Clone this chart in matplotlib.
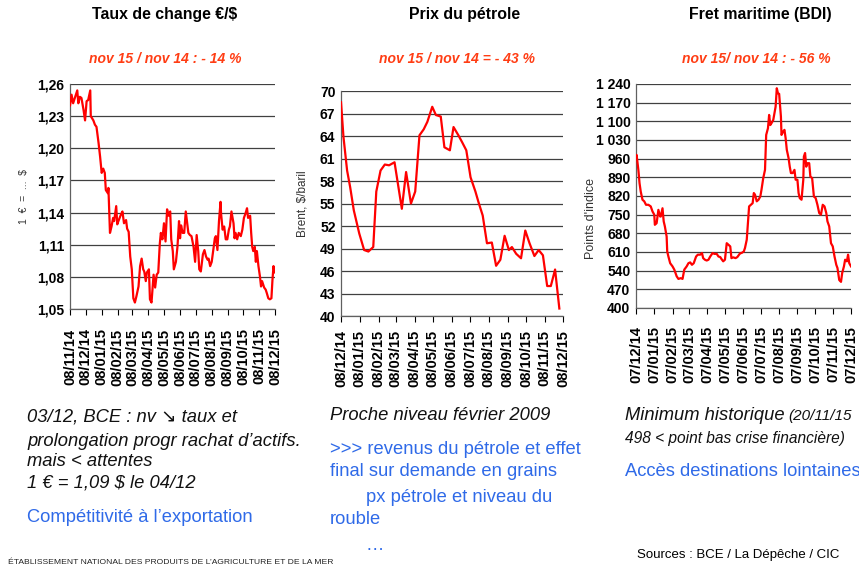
from datetime import datetime, timedelta

import matplotlib
matplotlib.use("Agg")
import matplotlib.dates as mdates
import matplotlib.pyplot as plt

plt.rcParams["font.family"] = ["Liberation Sans", "DejaVu Sans"]

# --- data ------------------------------------------------------------------
fx_start = datetime(2014, 11, 8)
fx_days = [0, 1, 3, 6, 10, 12, 14, 16, 19, 22, 26, 29, 32, 35, 39, 40, 45, 48, 51, 55,
           58, 61, 64, 67, 69, 73, 74, 77, 80, 83, 85, 89, 91, 94, 98, 101, 104, 108, 110,
           113, 116, 119, 122, 125, 128, 132, 135, 138, 141, 143, 146, 148, 152, 154, 157,
           161, 164, 167, 170, 173, 175, 178, 181, 184, 187, 190, 193, 195, 198, 200, 204,
           207, 210, 212, 214, 217, 220, 223, 225, 228, 231, 234, 238, 241, 244, 247, 249,
           252, 256, 259, 262, 265, 267, 270, 273, 276, 279, 281, 284, 287, 290, 291, 294,
           297, 300, 303, 306, 308, 311, 315, 317, 319, 322, 325, 329, 332, 335, 338, 341,
           343, 347, 349, 351, 353, 356, 358, 360, 363, 366, 368, 370, 374, 377, 379, 382,
           385, 388, 390, 392, 394, 395]
fx_rate = [1.240, 1.243, 1.250, 1.242, 1.248, 1.251, 1.254, 1.242, 1.248, 1.247, 1.236,
           1.226, 1.244, 1.245, 1.254, 1.230, 1.226, 1.222, 1.220, 1.205, 1.192, 1.177,
           1.181, 1.177, 1.161, 1.158, 1.163, 1.121, 1.127, 1.135, 1.132, 1.146, 1.129,
           1.133, 1.138, 1.141, 1.130, 1.133, 1.125, 1.122, 1.099, 1.087, 1.060, 1.056,
           1.062, 1.071, 1.090, 1.097, 1.087, 1.085, 1.076, 1.084, 1.087, 1.059, 1.056,
           1.082, 1.070, 1.082, 1.084, 1.111, 1.121, 1.115, 1.130, 1.113, 1.143, 1.137,
           1.141, 1.115, 1.104, 1.087, 1.094, 1.108, 1.132, 1.116, 1.128, 1.121, 1.121,
           1.141, 1.133, 1.121, 1.119, 1.118, 1.108, 1.094, 1.119, 1.104, 1.087, 1.085,
           1.101, 1.105, 1.099, 1.096, 1.097, 1.090, 1.094, 1.105, 1.116, 1.118, 1.105,
           1.132, 1.150, 1.139, 1.124, 1.127, 1.115, 1.115, 1.124, 1.127, 1.141, 1.130,
           1.116, 1.121, 1.115, 1.121, 1.118, 1.124, 1.135, 1.139, 1.144, 1.135, 1.137,
           1.121, 1.108, 1.104, 1.108, 1.094, 1.104, 1.090, 1.080, 1.071, 1.076, 1.070,
           1.068, 1.065, 1.060, 1.059, 1.060, 1.077, 1.090, 1.084, 1.088]

oil_start = datetime(2014, 12, 8)
oil_days = [0, 4, 10, 15, 21, 30, 38, 45, 53, 58, 65, 72, 79, 88, 100, 107, 115, 122, 129,
            136, 142, 150, 156, 164, 170, 179, 185, 193, 199, 206, 213, 221, 226, 233, 240,
            248, 255, 262, 269, 276, 281, 288, 296, 303, 310, 318, 325, 332, 339, 345, 352,
            359]
oil_brent = [68.5, 63.9, 59.4, 57.2, 54.1, 51.0, 48.8, 48.6, 49.2, 56.6, 59.4, 60.2, 60.1,
             60.5, 54.3, 59.2, 55.0, 56.6, 64.1, 64.9, 65.9, 67.9, 66.8, 66.6, 62.5, 62.1,
             65.2, 64.1, 63.2, 62.1, 58.5, 56.6, 55.2, 53.4, 49.7, 49.8, 46.7, 47.5, 50.7,
             48.8, 49.2, 48.3, 47.7, 51.4, 49.7, 48.0, 48.8, 48.1, 44.0, 44.0, 46.2, 41.0]

bdi_start = datetime(2014, 12, 7)
bdi_days = [0, 1, 4, 6, 8, 11, 14, 17, 21, 25, 28, 31, 32, 35, 38, 41, 42, 45, 47, 49, 52,
            53, 55, 58, 62, 65, 69, 72, 76, 79, 82, 86, 89, 92, 95, 98, 102, 105, 109, 112,
            114, 117, 120, 123, 126, 130, 133, 137, 140, 143, 145, 148, 151, 154, 157, 160,
            162, 165, 169, 172, 175, 177, 179, 183, 185, 188, 190, 192, 195, 198, 200, 202,
            205, 208, 211, 213, 216, 219, 221, 224, 226, 228, 230, 233, 235, 237, 239, 241,
            243, 246, 247, 250, 252, 254, 256, 259, 261, 263, 266, 269, 271, 274, 276, 278,
            281, 284, 285, 287, 289, 291, 294, 296, 299, 302, 305, 308, 311, 314, 317, 320,
            323, 325, 328, 331, 334, 337, 340, 342, 345, 348, 350, 353, 355, 358, 360, 362,
            365]
bdi_index = [960, 974, 918, 868, 837, 806, 800, 787, 787, 781, 762, 750, 712, 718, 768, 743,
             743, 774, 725, 706, 668, 612, 593, 568, 556, 544, 519, 509, 512, 509, 544, 556,
             568, 571, 562, 568, 593, 600, 600, 606, 587, 581, 578, 581, 593, 606, 603, 603,
             593, 591, 584, 575, 581, 643, 637, 631, 587, 590, 587, 591, 600, 606, 606, 612,
             625, 656, 718, 781, 787, 793, 831, 825, 800, 806, 818, 843, 887, 918, 1049, 1074,
             1124, 1086, 1093, 1105, 1130, 1155, 1224, 1205, 1203, 1118, 1049, 1062, 1068,
             1037, 993, 962, 930, 906, 906, 918, 881, 881, 831, 812, 806, 881, 968, 981, 930,
             943, 943, 893, 887, 818, 812, 787, 756, 750, 787, 781, 756, 725, 706, 643, 631,
             593, 562, 550, 505, 498, 531, 556, 581, 575, 600, 568, 556]

fx_ticks = [1.05, 1.08, 1.11, 1.14, 1.17, 1.20, 1.23, 1.26]
oil_ticks = list(range(40, 71, 3))
bdi_ticks = list(range(400, 1241, 70))

RED = "#ff0000"
BLUE = "#2f6ae8"
ORANGE = "#ff3d14"


def month_ticks(start, n):
    out = []
    y, m = start.year, start.month
    for _ in range(n):
        out.append(datetime(y, m, start.day))
        m += 1
        if m > 12:
            y, m = y + 1, 1
    return out


def draw_panel(rect, start, days, values, yticks, ylabels, n_months, ylabel, ylabel_kw, xpad):
    ax = fig.add_axes(rect)
    x = [start + timedelta(days=d) for d in days]
    ax.plot(x, values, color=RED, lw=1.6, solid_joinstyle="round", zorder=3)
    xt = month_ticks(start, n_months)
    ax.set_xlim(xt[0], xt[-1])
    ax.set_ylim(yticks[0], yticks[-1])
    ax.set_xticks(xt)
    ax.xaxis.set_major_formatter(mdates.DateFormatter("%d/%m/%y"))
    ax.set_yticks(yticks)
    ax.set_yticklabels(ylabels)
    for lab in ax.get_xticklabels():
        lab.set_rotation(90)
    ax.tick_params(axis="x", labelsize=10.5, length=4, width=0.8, pad=xpad)
    ax.tick_params(axis="y", labelsize=10, length=0, pad=4)
    for lab in ax.get_xticklabels() + ax.get_yticklabels():
        lab.set_fontweight("bold")
    ax.grid(axis="y", color="#404040", lw=0.9)
    ax.set_axisbelow(True)
    for s in ("top", "right"):
        ax.spines[s].set_visible(False)
    for s in ("left", "bottom"):
        ax.spines[s].set_color("#606060")
        ax.spines[s].set_linewidth(0.9)
    ax.set_ylabel(ylabel, **ylabel_kw)
    return ax


fig = plt.figure(figsize=(8.59, 5.69), dpi=100)

ax1 = draw_panel([0.0815, 0.457, 0.2387, 0.3954], fx_start, fx_days, fx_rate, fx_ticks,
                 [f"{t:.2f}".replace(".", ",") for t in fx_ticks], 14,
                 "1  €  =  ...  $", dict(fontsize=7.5, color="#333333", labelpad=6), 10)
ax2 = draw_panel([0.397, 0.4446, 0.2584, 0.3954], oil_start, oil_days, oil_brent, oil_ticks,
                 [str(t) for t in oil_ticks], 13,
                 "Brent, $/baril", dict(fontsize=8.5, color="#333333", labelpad=8), 6)
ax3 = draw_panel([0.7404, 0.4587, 0.2503, 0.3937], bdi_start, bdi_days, bdi_index, bdi_ticks,
                 [f"{t:,}".replace(",", " ") for t in bdi_ticks], 13,
                 "Points d'indice", dict(fontsize=9, color="#333333"), 9)
ax3.yaxis.set_label_coords(-0.18, 0.40)

# --- titles ----------------------------------------------------------------
W, H = 859, 569


def put(x, y, s, **kw):
    fig.text(x / W, 1 - y / H, s, **kw)


for cx, title in [(165, "Taux de change €/$"), (465, "Prix du pétrole"), (760, "Fret maritime (BDI)")]:
    put(cx, 15, title, ha="center", va="center", fontsize=11.4, fontweight="bold")
for cx, sub in [(165, "nov 15 / nov 14 : - 14 %"), (457, "nov 15 / nov 14 = - 43 %"),
                (756, "nov 15/ nov 14 : - 56 %")]:
    put(cx, 59, sub, ha="center", va="center", fontsize=10, fontweight="bold",
        style="italic", color=ORANGE)

# --- comments under the charts ------------------------------------------------
it = dict(fontsize=13.2, style="italic", va="center", color="#111111")
put(27, 417, "03/12, BCE : nv ↘ taux et", **it)
put(27, 441, "prolongation progr rachat d’actifs.", **it)
put(27, 462, "mais < attentes", **it)
put(27, 483, "1 € = 1,09 $ le 04/12", **it)
bl = dict(fontsize=13.2, va="center", color=BLUE)
put(27, 517, "Compétitivité à l’exportation", **bl)

put(330, 415, "Proche niveau février 2009", **it)
put(330, 450, ">>> revenus du pétrole et effet", **bl)
put(330, 472, "final sur demande en grains", **bl)
put(366, 498, "px pétrole et niveau du", **bl)
put(330, 520, "rouble", **bl)
put(366, 546, "…", **bl)

put(625, 415, "Minimum historique", **it)
put(788, 416, "(20/11/15", fontsize=11, style="italic", va="center", color="#111111")
put(625, 438, "498 < point bas crise financière)", fontsize=11.2, style="italic",
    va="center", color="#111111")
put(625, 472, "Accès destinations lointaines", **bl)

put(637, 555, "Sources : BCE / La Dépêche / CIC", fontsize=9.5, va="center")

put(8, 562, "ÉTABLISSEMENT NATIONAL DES PRODUITS DE L’AGRICULTURE ET DE LA MER",
    fontsize=6.1, va="center", color="#222222")

fig.savefig("out.png", dpi=100)
